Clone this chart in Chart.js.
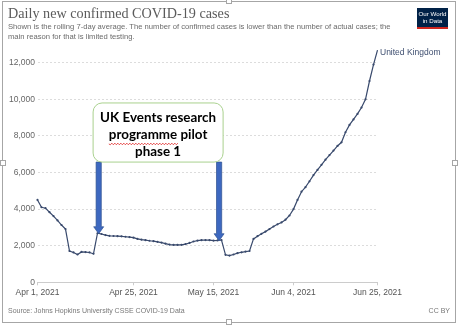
<!DOCTYPE html>
<html>
<head>
<meta charset="utf-8">
<script src="https://cdn.jsdelivr.net/npm/chart.js@4.4.0/dist/chart.umd.min.js"></script>
<style>
  html, body { margin: 0; padding: 0; background: #fff; }
  #wrap { position: relative; width: 458px; height: 325px; overflow: hidden; font-family: "Liberation Sans", Arial, sans-serif; }
  #chart { position: absolute; left: 0; top: 0; }
  .frame { position: absolute; left: 2px; top: 1px; width: 452px; height: 320px; border: 1px solid #a6a6a6; pointer-events: none; }
  .handle { position: absolute; width: 4px; height: 4px; background: #fff; border: 1px solid #a6a6a6; }
  .title { position: absolute; left: 8px; top: 5px; font-family: "Liberation Serif", serif; font-size: 14.2px; line-height: 16px; color: #5b5b5b; white-space: nowrap; }
  .sub { position: absolute; left: 8px; top: 22px; width: 388px; font-size: 7.65px; line-height: 10px; color: #6b6b6b; }
  .logo { position: absolute; left: 417px; top: 8px; width: 31px; height: 17px; background: #002147; border-bottom: 2px solid #ce261e; color: #fff; font-size: 6.2px; line-height: 7px; text-align: center; padding-top: 2px; box-sizing: content-box; }
  .foot { position: absolute; top: 307px; font-size: 7px; color: #777; white-space: nowrap; }
</style>
</head>
<body>
<div id="wrap">
  <canvas id="chart" width="458" height="325"></canvas>
  <div class="title">Daily new confirmed COVID-19 cases</div>
  <div class="sub">Shown is the rolling 7-day average. The number of confirmed cases is lower than the number of actual cases; the main reason for that is limited testing.</div>
  <div class="logo">Our World<br>in Data</div>
  <div class="foot" style="left:8px">Source: Johns Hopkins University CSSE COVID-19 Data</div>
  <div class="foot" style="right:8px">CC BY</div>
  <div class="frame"></div>
  <div class="handle" style="left:226px;top:-2px"></div>
  <div class="handle" style="left:226px;top:319px"></div>
  <div class="handle" style="left:0px;top:160px"></div>
  <div class="handle" style="left:452px;top:160px"></div>
</div>
<script>
// ---------- Data ----------
const seriesName = "United Kingdom";
// 7-day average, one value per day from Apr 1, 2021 to Jun 25, 2021
const cases = [
  4500, 4100, 4050, 3830, 3620, 3380, 3130, 2910, 1710, 1630,
  1520, 1660, 1650, 1630, 1560, 2680, 2640, 2580, 2540, 2530,
  2520, 2510, 2490, 2470, 2440, 2370, 2330, 2300, 2270, 2250,
  2210, 2170, 2110, 2060, 2040, 2040, 2050, 2090, 2150, 2230,
  2280, 2300, 2310, 2300, 2280, 2290, 2310, 1500, 1460, 1520,
  1590, 1640, 1680, 1710, 2370, 2520, 2650, 2770, 2910, 3050,
  3170, 3270, 3420, 3650, 4000, 4500, 4950, 5200, 5520, 5860,
  6140, 6420, 6700, 6950, 7200, 7450, 7650, 8200, 8600, 8900,
  9200, 9550, 10000, 11000, 11900, 12690
];
const tickDays   = [0, 24, 44, 64, 85];
const tickLabels = ["Apr 1, 2021", "Apr 25, 2021", "May 15, 2021", "Jun 4, 2021", "Jun 25, 2021"];
const yTicks     = [0, 2000, 4000, 6000, 8000, 10000, 12000];

// annotation (days the arrows point at)
const eventLines = ["UK Events research", "programme pilot", "phase 1"];
const arrowDays  = [15.3, 45.4];

const LINE = "#38496c";
const FONT = "'Liberation Sans', Arial, sans-serif";

// ---------- Annotation plugin ----------
const annotPlugin = {
  id: "annot",
  afterDraw(chart) {
    const { ctx, scales: { x, y } } = chart;
    // series label at last point
    const last = cases.length - 1;
    ctx.save();
    ctx.font = "8.5px " + FONT;
    ctx.fillStyle = "#3f4f70";
    ctx.textBaseline = "middle";
    ctx.fillText(seriesName, x.getPixelForValue(last) + 2.5, y.getPixelForValue(cases[last]) + 3);
    ctx.restore();

    const bx0 = x.getPixelForValue(13.9), bx1 = x.getPixelForValue(46.4);
    const by0 = y.getPixelForValue(9800), by1 = y.getPixelForValue(6570);

    // arrows
    arrowDays.forEach(d => {
      const ax = x.getPixelForValue(d);
      const v = cases[Math.floor(d)] + (cases[Math.ceil(d)] - cases[Math.floor(d)]) * (d - Math.floor(d));
      const tip = y.getPixelForValue(Math.max(v, cases[Math.floor(d)])) + 0.5;
      const hw = 5, hl = 7, bw = 2.6;
      ctx.save();
      ctx.beginPath();
      ctx.moveTo(ax - bw, by1);
      ctx.lineTo(ax + bw, by1);
      ctx.lineTo(ax + bw, tip - hl);
      ctx.lineTo(ax + hw, tip - hl);
      ctx.lineTo(ax, tip);
      ctx.lineTo(ax - hw, tip - hl);
      ctx.lineTo(ax - bw, tip - hl);
      ctx.closePath();
      ctx.fillStyle = "#3d68c0";
      ctx.fill();
      ctx.strokeStyle = "#2f528f";
      ctx.lineWidth = 0.7;
      ctx.stroke();
      ctx.restore();
    });

    // box
    ctx.save();
    ctx.beginPath();
    ctx.roundRect(bx0, by0, bx1 - bx0, by1 - by0, 9);
    ctx.fillStyle = "#fff";
    ctx.fill();
    ctx.strokeStyle = "#a9d18e";
    ctx.lineWidth = 1;
    ctx.stroke();

    ctx.font = "bold 13.4px Lato, 'Liberation Sans', sans-serif";
    ctx.fillStyle = "#000";
    ctx.textAlign = "center";
    ctx.textBaseline = "alphabetic";
    const cx = (bx0 + bx1) / 2;
    const baseY = by0 + 19;
    eventLines.forEach((t, i) => ctx.fillText(t, cx, baseY + i * 17));

    // spell-check squiggle under "programme"
    const full = ctx.measureText(eventLines[1]).width;
    const word = ctx.measureText("programme").width;
    const sx = cx - full / 2;
    const sy = baseY + 17 + 5;
    ctx.beginPath();
    ctx.strokeStyle = "#e02424";
    ctx.lineWidth = 0.8;
    ctx.moveTo(sx, sy);
    for (let p = sx; p < sx + word; p += 1.5) {
      ctx.lineTo(p + 1.5, sy + ((Math.round((p - sx) / 1.5) % 2) ? -0.8 : 0.8));
    }
    ctx.stroke();
    ctx.restore();
  }
};

// ---------- Chart ----------
new Chart(document.getElementById("chart"), {
  type: "line",
  data: {
    datasets: [{
      label: seriesName,
      data: cases.map((v, i) => ({ x: i, y: v })),
      borderColor: LINE,
      borderWidth: 1.2,
      pointRadius: 1.1,
      pointBackgroundColor: LINE,
      pointBorderWidth: 0,
      tension: 0,
      clip: false
    }]
  },
  options: {
    responsive: false,
    animation: false,
    devicePixelRatio: 1,
    layout: { padding: { left: 0, right: 80.5, top: 62.7, bottom: 0 } },
    plugins: { legend: { display: false }, tooltip: { enabled: false } },
    scales: {
      x: {
        type: "linear", min: 0, max: 85,
        afterBuildTicks: s => { s.ticks = tickDays.map(v => ({ value: v })); },
        afterFit: s => { s.height = 42.7; },
        ticks: {
          callback: v => tickLabels[tickDays.indexOf(v)],
          color: "#555", font: { size: 8.5, family: FONT },
          padding: 2, maxRotation: 0, autoSkip: false
        },
        grid: { drawOnChartArea: false, drawTicks: true, tickLength: 3, color: "#ccc" },
        border: { display: true, color: "#ccc", width: 1 }
      },
      y: {
        min: 0, max: 12000,
        afterBuildTicks: s => { s.ticks = yTicks.map(v => ({ value: v })); },
        afterFit: s => { s.width = 37.5; },
        ticks: { callback: v => v.toLocaleString("en-US"), color: "#666", font: { size: 8.5, family: FONT }, padding: 2.5 },
        grid: { color: "#dcdcdc", drawTicks: false, lineWidth: 1 },
        border: { display: false, dash: [2, 2] }
      }
    }
  },
  plugins: [annotPlugin]
});
</script>
</body>
</html>
